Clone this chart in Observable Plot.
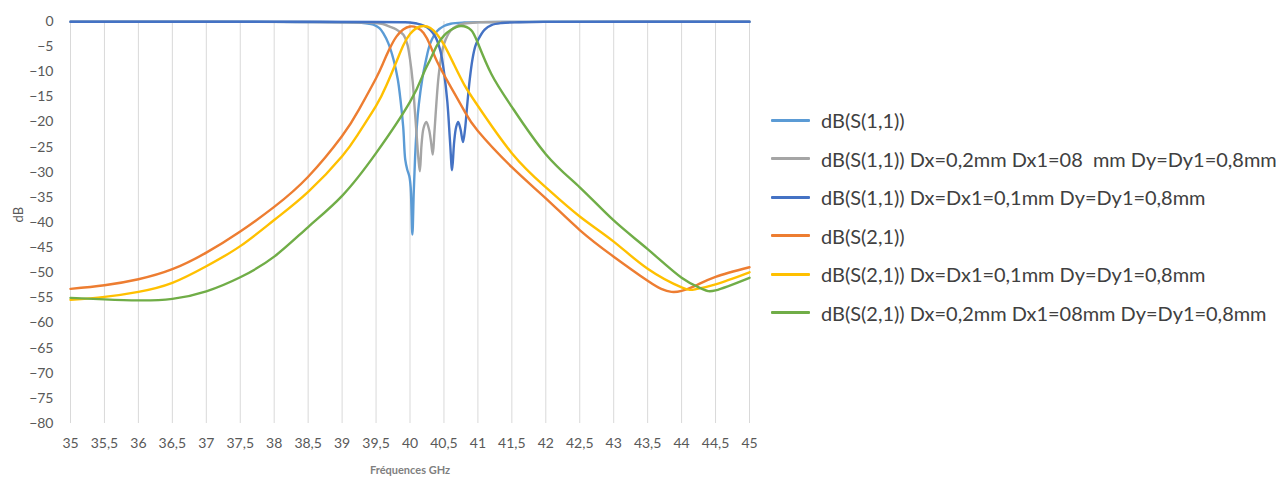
<!DOCTYPE html>
<html>
<head>
<meta charset="utf-8">
<script src="https://cdn.jsdelivr.net/npm/d3@7"></script>
<script src="https://cdn.jsdelivr.net/npm/@observablehq/plot@0.6"></script>
<style>
  html, body { margin: 0; padding: 0; background: #fff; }
  #wrap { position: relative; width: 1287px; height: 483px; font-family: Lato, "Open Sans", sans-serif; }
  #legend { position: absolute; left: 771px; top: 0; }
  .item { position: absolute; left: 0; white-space: pre; color: #404040; font-size: 19px; line-height: 22px; }
  .sw { position: absolute; left: 0; width: 39px; height: 3px; border-radius: 1px; }
  .lbl { position: absolute; left: 50px; top: -11px; }
</style>
</head>
<body>
<div id="wrap"></div>
<script>
// ---- data ----
const xTicks = [35, 35.5, 36, 36.5, 37, 37.5, 38, 38.5, 39, 39.5, 40, 40.5, 41, 41.5, 42, 42.5, 43, 43.5, 44, 44.5, 45];
const yTicks = [0, -5, -10, -15, -20, -25, -30, -35, -40, -45, -50, -55, -60, -65, -70, -75, -80];

const seriesNames = [
  "dB(S(1,1))",
  "dB(S(1,1)) Dx=0,2mm Dx1=08  mm Dy=Dy1=0,8mm",
  "dB(S(1,1)) Dx=Dx1=0,1mm Dy=Dy1=0,8mm",
  "dB(S(2,1))",
  "dB(S(2,1)) Dx=Dx1=0,1mm Dy=Dy1=0,8mm",
  "dB(S(2,1)) Dx=0,2mm Dx1=08mm Dy=Dy1=0,8mm"
];
const seriesColors = ["#5B9BD5", "#A5A5A5", "#4472C4", "#ED7D31", "#FFC000", "#70AD47"];

// dB(S(1,1))
const s11Freq = [35, 36, 37, 38, 38.5, 39, 39.2, 39.35, 39.46, 39.55, 39.61, 39.68, 39.76, 39.82, 39.86, 39.9, 39.93, 39.96, 39.99, 40.01, 40.035, 40.055, 40.075, 40.1, 40.13, 40.18, 40.23, 40.3, 40.4, 40.5, 40.6, 40.8, 41, 41.5, 42, 43, 44, 45];
const s11dB   = [-0.05, -0.05, -0.05, -0.07, -0.1, -0.15, -0.2, -0.35, -0.6, -1.3, -2.4, -4.3, -7.7, -11.5, -15.6, -21, -27.5, -29.5, -30.8, -33, -42.4, -34, -27, -21, -16.5, -11.5, -8, -4.3, -1.9, -0.9, -0.45, -0.2, -0.12, -0.08, -0.06, -0.05, -0.05, -0.05];

// dB(S(1,1)) Dx=0,2mm Dx1=08 mm Dy=Dy1=0,8mm
const s11bFreq = [35, 37, 38.5, 39.3, 39.5, 39.6, 39.7, 39.8, 39.9, 39.96, 40.0, 40.04, 40.07, 40.1, 40.125, 40.145, 40.17, 40.2, 40.24, 40.28, 40.31, 40.335, 40.36, 40.39, 40.42, 40.46, 40.5, 40.6, 40.7, 40.8, 41, 41.5, 42, 45];
const s11bdB   = [-0.05, -0.05, -0.1, -0.2, -0.3, -0.5, -1.0, -1.6, -2.6, -4.5, -7.5, -12, -17.5, -23, -27.5, -29.8, -24.5, -21.2, -20, -21.5, -24, -26.5, -22, -16, -11, -7, -4.5, -1.8, -0.8, -0.4, -0.18, -0.1, -0.07, -0.05];

// dB(S(1,1)) Dx=Dx1=0,1mm Dy=Dy1=0,8mm
const s11cFreq = [35, 38, 39.5, 39.9, 40.0, 40.1, 40.2, 40.3, 40.38, 40.45, 40.5, 40.55, 40.59, 40.62, 40.65, 40.68, 40.71, 40.745, 40.78, 40.81, 40.84, 40.88, 40.92, 40.96, 41.0, 41.1, 41.2, 41.35, 41.6, 42, 45];
const s11cdB   = [-0.05, -0.05, -0.1, -0.15, -0.2, -0.4, -0.8, -1.7, -3.2, -6, -10, -16, -24, -29.6, -24, -21, -20, -21.5, -24, -21.5, -17, -11.5, -7.5, -5, -3.7, -1.6, -0.7, -0.3, -0.15, -0.08, -0.05];

// dB(S(2,1))
const s21Freq = [35, 35.5, 36, 36.5, 37, 37.5, 38, 38.5, 39, 39.25, 39.5, 39.6, 39.7, 39.8, 39.9, 40.0, 40.1, 40.2, 40.3, 40.4, 40.6, 40.8, 41.0, 41.5, 42, 42.5, 43, 43.5, 43.7, 43.85, 44, 44.2, 44.5, 45];
const s21dB   = [-53.2, -52.5, -51.3, -49.3, -46.0, -41.8, -36.9, -30.9, -22.8, -17.5, -11.3, -8.4, -5.4, -3.0, -1.6, -1.0, -1.2, -2.3, -4.8, -8, -13, -17.8, -21.8, -29, -35.2, -41.5, -46.8, -51.6, -53.2, -53.8, -53.6, -52.6, -50.8, -48.9];

// dB(S(2,1)) Dx=Dx1=0,1mm Dy=Dy1=0,8mm
const s21bFreq = [35, 35.5, 36, 36.5, 37, 37.5, 38, 38.5, 39, 39.25, 39.5, 39.65, 39.8, 39.9, 40.0, 40.15, 40.3, 40.4, 40.5, 40.65, 40.8, 41.0, 41.5, 42, 42.5, 43, 43.5, 44, 44.2, 44.5, 45];
const s21bdB   = [-55.4, -54.8, -53.8, -52, -48.7, -44.7, -39.5, -33.9, -26.8, -22.1, -16.8, -12.8, -8.0, -4.8, -2.5, -1.0, -1.3, -2.6, -4.6, -8.6, -12.6, -16.8, -26.2, -33, -38.8, -43.8, -49.2, -52.9, -53.3, -52.3, -49.9];

// dB(S(2,1)) Dx=0,2mm Dx1=08mm Dy=Dy1=0,8mm
const s21cFreq = [35, 35.5, 36, 36.5, 37, 37.5, 38, 38.5, 39, 39.5, 40.0, 40.2, 40.3, 40.4, 40.5, 40.6, 40.75, 40.9, 41.0, 41.2, 41.5, 42, 42.5, 43, 43.5, 44, 44.3, 44.5, 45];
const s21cdB   = [-55, -55.3, -55.5, -55.2, -53.7, -50.9, -46.8, -40.9, -34.7, -26.2, -16, -10.3, -7.5, -4.7, -2.8, -1.7, -0.9, -1.7, -4.3, -10.5, -17, -26.4, -33, -39.6, -45.3, -51, -53.2, -53.5, -51];

const seriesFreq = [s11Freq, s11bFreq, s11cFreq, s21Freq, s21bFreq, s21cFreq];
const seriesdB = [s11dB, s11bdB, s11cdB, s21dB, s21bdB, s21cdB];

// ---- chart ----
const fmt = d => String(d).replace(".", ",");
const lines = seriesNames.map((name, i) =>
  Plot.line(seriesFreq[i].map((f, j) => ({f, db: seriesdB[i][j]})), {
    x: "f", y: "db", stroke: seriesColors[i], strokeWidth: 2.4,
    curve: i < 3 ? "catmull-rom" : "natural"
  })
);

const chart = Plot.plot({
  width: 1287,
  height: 483,
  marginLeft: 70,
  marginRight: 1287 - 749,
  marginTop: 21,
  marginBottom: 60,
  style: {fontFamily: "Lato, 'Open Sans', sans-serif", color: "#595959", background: "#fff"},
  x: {domain: [35, 45], label: null},
  y: {domain: [-80, 0], label: null},
  marks: [
    Plot.gridX(xTicks, {stroke: "#d9d9d9", strokeOpacity: 1, strokeWidth: 1}),
    Plot.axisX(xTicks, {tickSize: 0, tickPadding: 15, tickFormat: fmt, fontSize: 14, fill: "#595959", label: null}),
    Plot.axisY(yTicks, {tickSize: 0, tickPadding: 17, fontSize: 14, fill: "#595959", label: null}),
    Plot.text(["dB"], {text: d => d, frameAnchor: "left", dx: -52, rotate: -90, fontSize: 13, fill: "#595959"}),
    Plot.text(["Fréquences GHz"], {text: d => d, frameAnchor: "bottom", dy: 50, fontSize: 11, fontWeight: "bold", fill: "#7f7f7f"}),
    ...lines
  ]
});

const wrap = document.getElementById("wrap");
wrap.appendChild(chart);

const legend = document.createElement("div");
legend.id = "legend";
const labels = [];
seriesNames.forEach((name, i) => {
  const it = document.createElement("div");
  it.className = "item";
  it.style.top = (120 + i * 38.5) + "px";
  const sw = document.createElement("div");
  sw.className = "sw";
  sw.style.background = seriesColors[i];
  sw.style.top = "-1.5px";
  const lb = document.createElement("div");
  lb.className = "lbl";
  lb.textContent = name;
  it.appendChild(sw);
  it.appendChild(lb);
  legend.appendChild(it);
  labels.push(lb);
});
wrap.appendChild(legend);

// fit the longest legend label to the width seen in the reference (~456px)
const longest = labels[1];
const w = longest.getBoundingClientRect().width;
if (w > 0) {
  const fs = Math.max(15, Math.min(21, 19 * 456 / w));
  legend.querySelectorAll(".item").forEach(el => el.style.fontSize = fs.toFixed(2) + "px");
}
</script>
</body>
</html>
